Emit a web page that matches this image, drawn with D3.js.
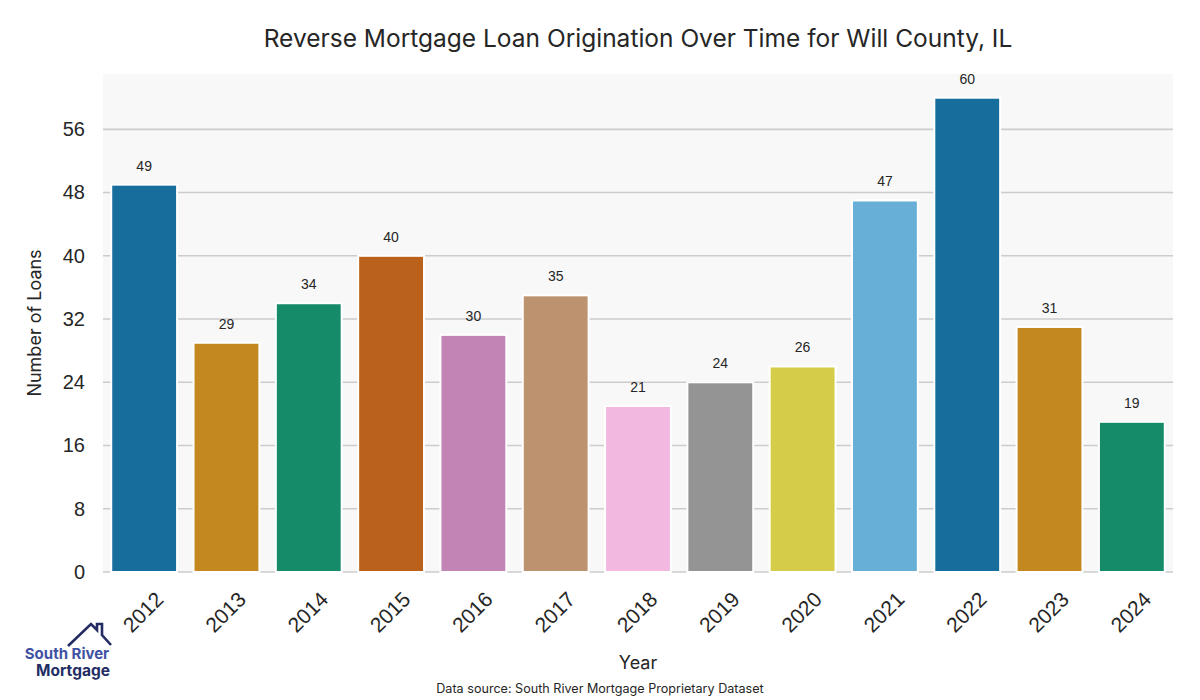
<!DOCTYPE html>
<html><head><meta charset="utf-8">
<script src="https://cdn.jsdelivr.net/npm/d3@7"></script>
<style>body{margin:0;background:#fff}svg{display:block}</style>
</head><body>
<svg id="chart" width="1200" height="700"></svg>
<script>
const years = ["2012","2013","2014","2015","2016","2017","2018","2019","2020","2021","2022","2023","2024"];
const loans = [49,29,34,40,30,35,21,24,26,47,60,31,19];
const yTicks = [0,8,16,24,32,40,48,56];
const palette = ["#0173b2","#de8f05","#029e73","#d55e00","#cc78bc","#ca9161","#fbafe4","#949494","#ece133","#56b4e9","#0173b2","#de8f05","#029e73"];
const titleText = "Reverse Mortgage Loan Origination Over Time for Will County, IL";
const xLabel = "Year", yLabel = "Number of Loans";
const sourceText = "Data source: South River Mortgage Proprietary Dataset";

const svg = d3.select("#chart");
const L = 103, R = 1173, T = 74, B = 572;
const x = d3.scaleBand().domain(years).range([L, R]).paddingInner(0.2).paddingOuter(0.1);
const y = d3.scaleLinear().domain([0, 63]).range([B, T]);
const desat = c => { const h = d3.hsl(c); h.s *= 0.75; return h.formatHex(); };
const geo = "Inter, 'Noto Sans', sans-serif";
const arial = "'Liberation Sans', Arial, sans-serif";

svg.append("rect").attr("x", L).attr("y", T).attr("width", R - L).attr("height", B - T).attr("fill", "#f8f8f8");

svg.append("g").selectAll("line").data(yTicks).join("line")
  .attr("x1", L).attr("x2", R).attr("y1", d => y(d)).attr("y2", d => y(d))
  .attr("stroke", "#cccccc").attr("stroke-width", 1.6);

const yAxis = svg.append("g").attr("transform", `translate(${L},0)`)
  .call(d3.axisLeft(y).tickValues(yTicks).tickSize(0).tickPadding(18));
yAxis.select(".domain").remove();
yAxis.selectAll("text").attr("font-family", arial).attr("font-size", 20).attr("fill", "#262626");

svg.append("g").selectAll("rect").data(loans).join("rect")
  .attr("x", (d, i) => x(years[i])).attr("width", x.bandwidth())
  .attr("y", d => y(d)).attr("height", d => y(0) - y(d))
  .attr("fill", (d, i) => desat(palette[i]))
  .attr("stroke", "#ffffff").attr("stroke-width", 2);

svg.append("g").selectAll("text").data(loans).join("text")
  .attr("x", (d, i) => x(years[i]) + x.bandwidth() / 2)
  .attr("y", d => y(d) - 14)
  .attr("text-anchor", "middle")
  .attr("font-family", arial).attr("font-size", 14).attr("fill", "#262626")
  .text(d => d);

const xAxis = svg.append("g").attr("transform", `translate(0,${B})`)
  .call(d3.axisBottom(x).tickSize(0).tickPadding(0));
xAxis.select(".domain").remove();
xAxis.selectAll("text")
  .attr("font-family", arial).attr("font-size", 21).attr("fill", "#262626")
  .attr("text-anchor", "middle").attr("dy", "0.35em").attr("y", 0)
  .attr("transform", "translate(-1,40) rotate(-45)");

svg.append("text").attr("x", 638).attr("y", 47).attr("text-anchor", "middle")
  .attr("font-family", geo).attr("font-size", 24.5).attr("fill", "#262626").text(titleText);

svg.append("text").attr("x", 638).attr("y", 669).attr("text-anchor", "middle")
  .attr("font-family", geo).attr("font-size", 18).attr("fill", "#262626").text(xLabel);

svg.append("text").attr("transform", "translate(41,323) rotate(-90)").attr("text-anchor", "middle")
  .attr("font-family", geo).attr("font-size", 18).attr("fill", "#262626").text(yLabel);

svg.append("text").attr("x", 600).attr("y", 693).attr("text-anchor", "middle")
  .attr("font-family", geo).attr("font-size", 12.6).attr("fill", "#262626").text(sourceText);

// logo
const logo = svg.append("g");
logo.append("path").attr("d", "M68,646 L91,624 L97,630 L97,624 L102,624 L102,635 L111,645")
  .attr("fill", "none").attr("stroke", "#232d64").attr("stroke-width", 2.6).attr("stroke-linejoin", "miter");
logo.append("text").attr("x", 67).attr("y", 659).attr("text-anchor", "middle")
  .attr("font-family", geo).attr("font-weight", 700).attr("font-size", 15).attr("fill", "#3f51a3").text("South River");
logo.append("text").attr("x", 73).attr("y", 676).attr("text-anchor", "middle")
  .attr("font-family", geo).attr("font-weight", 700).attr("font-size", 15.5).attr("fill", "#232d64").text("Mortgage");
</script>
</body></html>
